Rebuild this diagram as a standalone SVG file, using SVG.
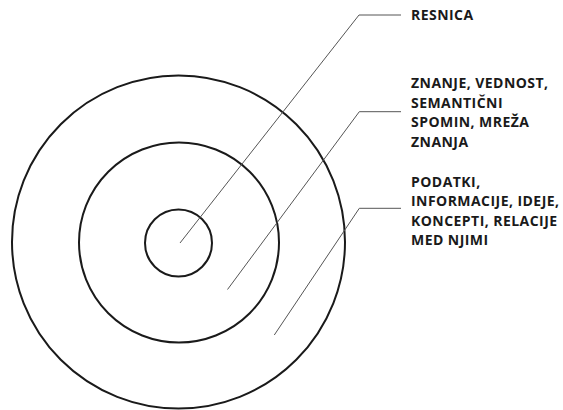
<svg xmlns="http://www.w3.org/2000/svg" width="563" height="410" viewBox="0 0 563 410">
<style>
.ring{fill:none;stroke:#1a1a1a;stroke-width:2}
.lead{fill:none;stroke:#555;stroke-width:1}
.lbl{font-family:"Open Sans","Noto Sans",sans-serif;font-weight:700;font-size:14px;letter-spacing:0.45px;fill:#1a1a1a}
</style>
<rect width="563" height="410" fill="#fff"/>
<g id="outer"><circle class="ring" cx="178.5" cy="242" r="166.5"/></g>
<g id="middle"><circle class="ring" cx="179" cy="242.5" r="100"/></g>
<g id="inner"><circle class="ring" cx="178.5" cy="243" r="33.5"/></g>
<g id="connectors">
<polyline class="lead" points="180,243 359,15 401,15"/>
<polyline class="lead" points="227.5,289.5 359.3,111.7 401,111.7"/>
<polyline class="lead" points="274.3,335 359.3,208.3 401,208.3"/>
</g>
<g id="label-resnica"><text class="lbl" x="411" y="20">RESNICA</text></g>
<g id="label-znanje"><text class="lbl" x="411">
<tspan x="411" y="88">ZNANJE, VEDNOST,</tspan>
<tspan x="411" y="107.5">SEMANTIČNI</tspan>
<tspan x="411" y="127">SPOMIN, MREŽA</tspan>
<tspan x="411" y="146.5">ZNANJA</tspan>
</text></g>
<g id="label-podatki"><text class="lbl">
<tspan x="411" y="186.5">PODATKI,</tspan>
<tspan x="411" y="206">INFORMACIJE, IDEJE,</tspan>
<tspan x="411" y="225.5">KONCEPTI, RELACIJE</tspan>
<tspan x="411" y="245">MED NJIMI</tspan>
</text></g>
</svg>
